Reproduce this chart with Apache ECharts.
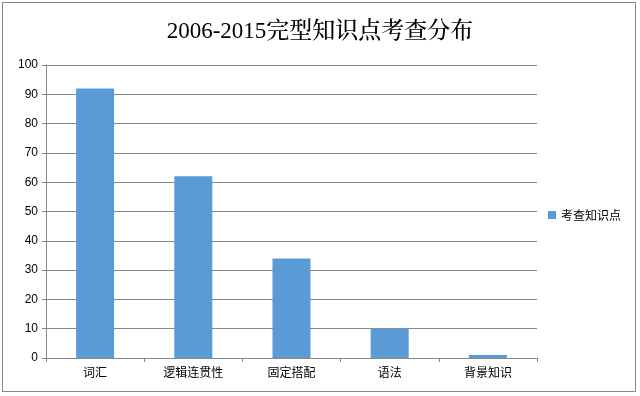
<!DOCTYPE html>
<html><head><meta charset="utf-8">
<script src="https://cdn.jsdelivr.net/npm/echarts@6/dist/echarts.min.js"></script>
<style>html,body{margin:0;padding:0;background:#fff}#c{width:640px;height:396px}
#b{position:absolute;left:2px;top:2px;width:634px;height:390px;border:1px solid #888;box-sizing:border-box;pointer-events:none}</style>
</head><body><div id="c"></div><div id="b"></div>
<script>
const categories = ['词汇', '逻辑连贯性', '固定搭配', '语法', '背景知识'];
const seriesName = '考查知识点';
const values = [92, 62, 34, 10, 1];
const titleText = '2006-2015完型知识点考查分布';

const chart = echarts.init(document.getElementById('c'));
chart.setOption({
  animation: false,
  backgroundColor: '#fff',
  title: {
    text: titleText, left: 'center', top: 15,
    textStyle: { fontFamily: '"Liberation Serif","Noto Serif CJK SC","Noto Sans CJK SC",serif', fontSize: 23, fontWeight: 500, color: '#000' }
  },
  legend: {
    data: [seriesName], orient: 'vertical', left: 543, top: 204,
    itemWidth: 8, itemHeight: 8, itemGap: 4, icon: 'rect',
    textStyle: { fontSize: 12, color: '#000', fontFamily: '"Noto Sans CJK SC",sans-serif' }
  },
  grid: { left: 46, right: 103, top: 65, bottom: 38, containLabel: false },
  xAxis: {
    type: 'category', data: categories,
    axisLine: { lineStyle: { color: '#888' } },
    axisTick: { show: true, length: 4, lineStyle: { color: '#888' } },
    axisLabel: { color: '#000', fontSize: 12, margin: 8, fontFamily: '"Noto Sans CJK SC",sans-serif' }
  },
  yAxis: {
    type: 'value', min: 0, max: 100, interval: 10,
    axisLine: { show: true, lineStyle: { color: '#888' } },
    axisTick: { show: true, length: 4, lineStyle: { color: '#888' } },
    splitLine: { lineStyle: { color: '#888' } },
    axisLabel: { color: '#000', fontSize: 12, margin: 8, fontFamily: '"Liberation Sans",sans-serif' }
  },
  series: [{
    name: seriesName, type: 'bar', data: values, barWidth: 38,
    itemStyle: { color: '#5b9bd5' }
  }]
});
</script></body></html>
